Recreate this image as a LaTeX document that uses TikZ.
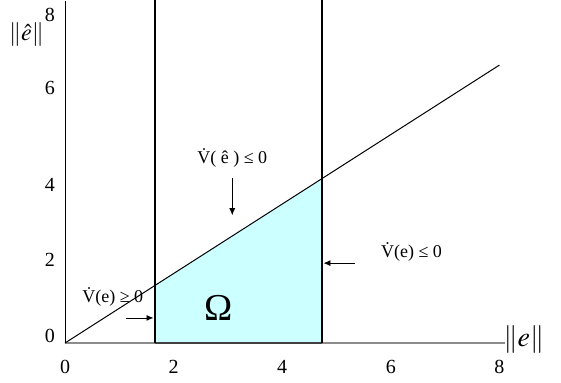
\documentclass[tikz,border=0pt]{standalone}
\usepackage{mathptmx}
\usepackage{fontspec}
\setmainfont{Liberation Serif}
\usetikzlibrary{arrows.meta}
\definecolor{omegafill}{RGB}{204,255,255}
\begin{document}
\begin{tikzpicture}[>={Latex[length=7pt,width=6pt]},x=54.3pt,y=38.6pt,
    ticklab/.style={font=\fontsize{20}{22}\selectfont},
    vlab/.style={font=\fontsize{18}{20}\selectfont}]
      \useasboundingbox (-1.197,-1.010) rectangle (9.134,8.886);
      % region Omega
      \fill[omegafill] (1.66,0) -- (1.66,1.494) -- (4.73,4.257) -- (4.73,0) -- cycle;
      % axes
      \draw[line width=1.2pt, black!45] (0,0) -- (8.1,0);
      \draw[line width=1.2pt, black!75] (1.66,0) -- (4.73,0);
      \draw[line width=1pt] (0,0) -- (0,8.85);
      % bounds
      \draw[line width=1.7pt] (1.66,0) -- (1.66,8.886);
      \draw[line width=1.7pt] (4.73,0) -- (4.73,8.886);
      \draw[line width=1pt] (0,0) -- (8,7.2);
      % tick labels
      \foreach \t in {0,2,4,6,8}
        \node[ticklab] (x\t) at (\t,-0.62) {\t};
      \foreach \t/\h in {0/0.18,2/2.15,4/4.09,6/6.61,8/8.50}
        \node[ticklab] (y\t) at (-0.28,\h) {\t};
      \node[font=\fontsize{28}{30}\selectfont] (xlab) at (8.45,0.1) {$\|e\|$};
      \node[font=\fontsize{24}{26}\selectfont] (ylab) at (-0.71,7.98) {$\|\hat{e}\|$};
      % annotations
      \node[vlab] (vhat) at (3.08,4.79) {\.{V}( \^{e} ) ≤ 0};
      \node[vlab] (vup) at (6.38,2.36) {\.{V}(e) ≤ 0};
      \node[vlab] (vlow) at (0.88,1.19) {\.{V}(e) ≥ 0};
      \node[font=\fontsize{38}{40}\selectfont] (omega) at (2.82,0.91) {Ω};
      \coordinate (a1) at (3.08,4.27);
      \coordinate (b1) at (3.08,3.31);
      \coordinate (a2) at (5.34,2.07);
      \coordinate (b2) at (4.76,2.07);
      \coordinate (a3) at (1.12,0.65);
      \coordinate (b3) at (1.63,0.65);
      \draw[->, line width=0.8pt] (a1) -- (b1);
      \draw[->, line width=0.8pt] (a2) -- (b2);
      \draw[->, line width=0.8pt] (a3) -- (b3);
    \end{tikzpicture}
\end{document}
